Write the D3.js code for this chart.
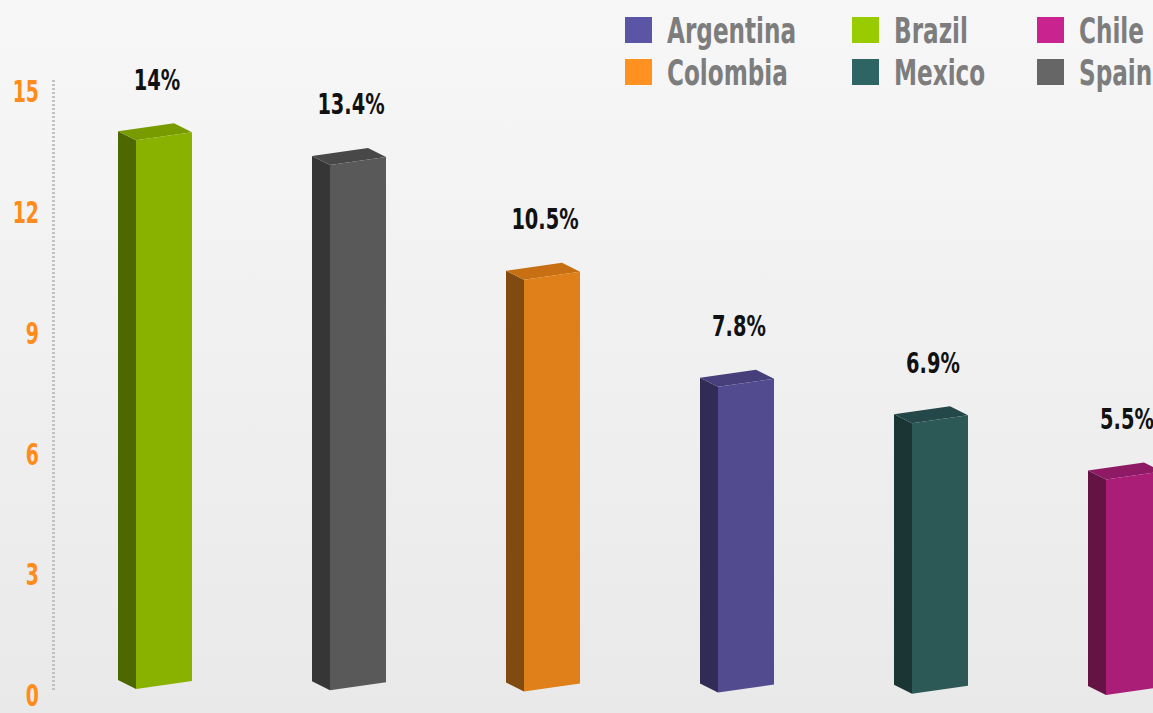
<!DOCTYPE html>
<html>
<head>
<meta charset="utf-8">
<script src="https://cdn.jsdelivr.net/npm/d3@7"></script>
<style>
  html, body { margin: 0; padding: 0; overflow: hidden; }
  body { width: 1153px; height: 713px; }
  svg { display: block; }
</style>
</head>
<body>
<svg id="chart" width="1153" height="713"></svg>
<script>
// Share by country, sorted high to low
const countries = ["Brazil", "Spain", "Colombia", "Argentina", "Mexico", "Chile"];
const values = [14, 13.4, 10.5, 7.8, 6.9, 5.5];
const valueLabels = ["14%", "13.4%", "10.5%", "7.8%", "6.9%", "5.5%"];
const yTicks = [0, 3, 6, 9, 12, 15];

// Legend entries, filled row by row
const legendNames = ["Argentina", "Brazil", "Chile", "Colombia", "Mexico", "Spain"];

// Base colour per country and the shaded faces of its 3D column
const legendColors = {
  Argentina: "#5b55a6", Brazil: "#99cc00", Chile: "#c8238f",
  Colombia: "#ff9120", Mexico: "#2e6464", Spain: "#666666"
};
const frontColors = {
  Argentina: "#524b8f", Brazil: "#88b100", Chile: "#aa1e78",
  Colombia: "#e0801a", Mexico: "#2c5856", Spain: "#595959"
};
const sideColors = {
  Argentina: "#312c55", Brazil: "#4d6800", Chile: "#651345",
  Colombia: "#804a10", Mexico: "#1b3434", Spain: "#363636"
};
const topColors = {
  Argentina: "#463f7b", Brazil: "#789c00", Chile: "#8e1a65",
  Colombia: "#c86f14", Mexico: "#24484a", Spain: "#484848"
};

const W = 1153, H = 713;
const FONT = "'DejaVu Sans Condensed', 'DejaVu Sans', sans-serif";
const svg = d3.select("#chart");

// Background wash
const defs = svg.append("defs");
const bg = defs.append("linearGradient").attr("id", "bg")
  .attr("x1", 0).attr("y1", 0).attr("x2", 0).attr("y2", 1);
bg.append("stop").attr("offset", "0%").attr("stop-color", "#f7f7f7");
bg.append("stop").attr("offset", "100%").attr("stop-color", "#e9e9e9");
svg.append("rect").attr("width", W).attr("height", H).attr("fill", "url(#bg)");

// Scales
const x = d3.scalePoint().domain(countries).range([136, 1106]);       // front-left edge of each column
const base = d3.scaleLinear().domain([136, 1106]).range([689, 695]);  // floor line, slightly tilted
const h = d3.scaleLinear().domain([0, 15]).range([0, 588]);           // column height
const yAxis = d3.scaleLinear().domain([0, 15]).range([696, 92]);      // value axis on the back wall

const frontW = 56;     // width of the front face
const tilt = 8;        // rise of the front face across its width
const depthX = -18, depthY = -9;  // depth offset of the side and top faces

// Value axis: dotted rule and orange tick labels
svg.append("line")
  .attr("x1", 53.5).attr("x2", 53.5)
  .attr("y1", yAxis(15) - 12).attr("y2", yAxis(0) - 4)
  .attr("stroke", "#c2c2c2").attr("stroke-width", 3)
  .attr("stroke-dasharray", "2,2");

const axisG = svg.append("g").attr("transform", "translate(39,0)");
axisG.call(d3.axisLeft(yAxis).tickValues(yTicks).tickSize(0).tickPadding(0));
axisG.select(".domain").remove();
axisG.selectAll("text")
  .attr("x", 0)
  .attr("transform", "scale(0.7,1)")
  .attr("fill", "#ff8c1a")
  .style("font-family", FONT)
  .style("font-weight", "bold")
  .style("font-size", "30px");

// Columns
const bars = svg.append("g").selectAll("g")
  .data(countries.map((c, i) => ({ c, v: values[i], label: valueLabels[i] })))
  .join("g");

function pts(arr) { return arr.map(p => p.join(",")).join(" "); }

bars.each(function(d) {
  const g = d3.select(this);
  const x0 = x(d.c);
  const x1 = x0 + frontW;
  const b = base(x0);
  const ht = h(d.v);
  const bl = [x0, b], br = [x1, b - tilt];
  const tl = [x0, b - ht], tr = [x1, b - ht - tilt];
  const off = p => [p[0] + depthX, p[1] + depthY];

  g.append("polygon")
    .attr("points", pts([tl, bl, off(bl), off(tl)]))
    .attr("fill", sideColors[d.c]);
  g.append("polygon")
    .attr("points", pts([tl, tr, off(tr), off(tl)]))
    .attr("fill", topColors[d.c]);
  g.append("polygon")
    .attr("points", pts([tl, tr, br, bl]))
    .attr("fill", frontColors[d.c]);

  g.append("text")
    .attr("transform", `translate(${x0 + 21},${b - ht - 60}) scale(0.77,1)`)
    .attr("text-anchor", "middle")
    .attr("dominant-baseline", "central")
    .attr("fill", "#111")
    .style("font-family", FONT)
    .style("font-weight", "bold")
    .style("font-size", "28px")
    .text(d.label);
});

// Legend: three columns, two rows
const legendColX = [625, 852, 1037];
const legendRowY = [17, 59];
const legend = svg.append("g").selectAll("g")
  .data(legendNames)
  .join("g")
  .attr("transform", (d, i) => `translate(${legendColX[i % 3]},${legendRowY[Math.floor(i / 3)]})`);

legend.append("rect")
  .attr("width", 27).attr("height", 26)
  .attr("fill", d => legendColors[d]);

legend.append("text")
  .attr("transform", "translate(42,26) scale(0.735,1)")
  .attr("fill", "#7d7d7d")
  .style("font-family", FONT)
  .style("font-weight", "bold")
  .style("font-size", "35px")
  .text(d => d);
</script>
</body>
</html>
